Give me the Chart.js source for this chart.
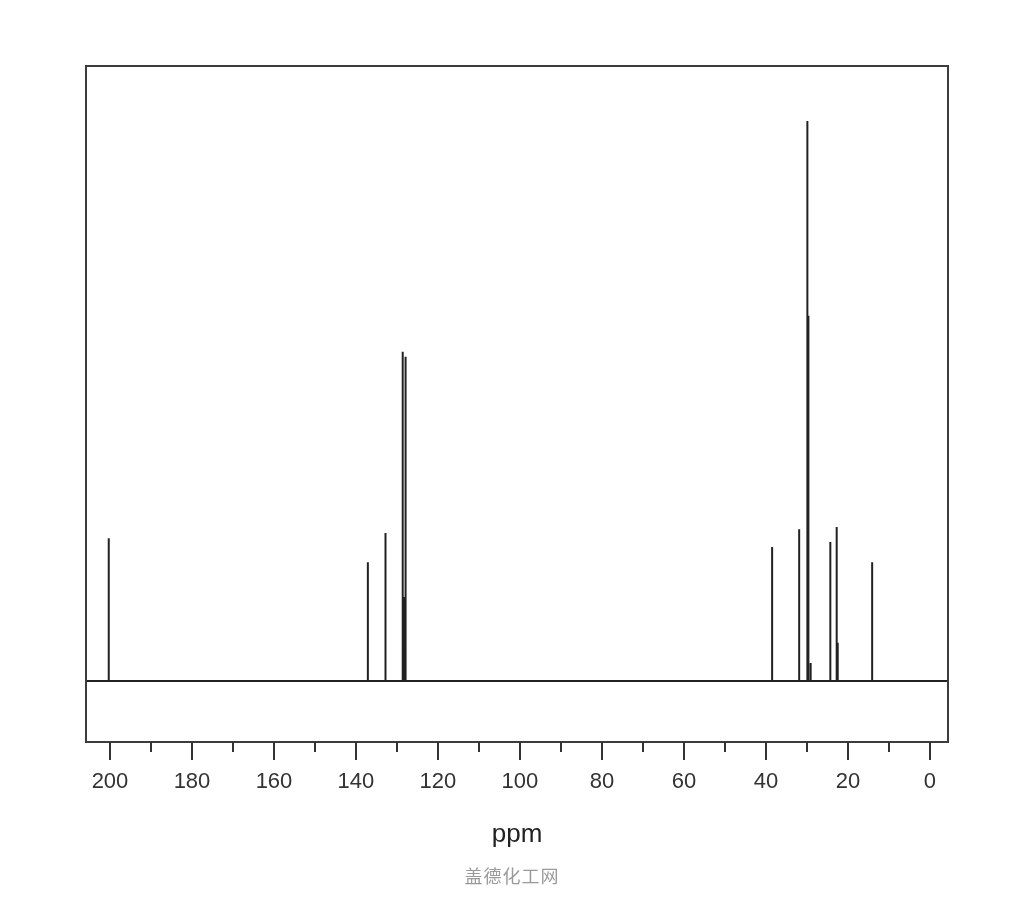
<!DOCTYPE html>
<html>
<head>
<meta charset="utf-8">
<script src="https://cdn.jsdelivr.net/npm/chart.js@4"></script>
<style>
  body { margin: 0; background: #fff; }
  #wrap { position: relative; width: 1024px; height: 900px; }
  #mark {
    position: absolute; left: 0; width: 1024px; top: 862px;
    text-align: center; font-family: "Noto Sans CJK SC"; font-size: 18px;
    letter-spacing: 1px; color: #9a9a9a;
  }
</style>
</head>
<body>
<div id="wrap">
  <canvas id="nmr" width="1024" height="900"></canvas>
  <div id="mark">盖德化工网</div>
</div>
<script>
// peak positions (ppm) and relative heights (tallest = 100)
const peakShifts = [200.3, 137.1, 132.8, 128.6, 128.25, 127.9, 38.5, 31.9, 29.9, 29.65, 29.1, 24.3, 22.75, 22.5, 14.1];
const peakHeights = [25.5, 21.2, 26.4, 58.8, 15.0, 57.9, 23.9, 27.1, 100, 65.2, 3.2, 24.8, 27.5, 6.8, 21.2];
const ppmRange = [-4.4, 205.85];
const intensityRange = [-10.9, 109.8];

// stick spectrum: baseline, up to the peak, back down
const spectrum = [{ x: ppmRange[1], y: 0 }];
peakShifts.forEach((p, i) => {
  spectrum.push({ x: p, y: 0 });
  spectrum.push({ x: p, y: peakHeights[i] });
  spectrum.push({ x: p, y: 0 });
});
spectrum.push({ x: ppmRange[0], y: 0 });

// box round the plot + long/short tick marks under the axis
const framePlugin = {
  id: 'frame',
  afterDraw(chart) {
    const ctx = chart.ctx;
    const a = chart.chartArea;
    const xs = chart.scales.x;
    ctx.save();
    ctx.strokeStyle = '#3c3c3c';
    ctx.lineWidth = 2;
    ctx.strokeRect(a.left, a.top, a.right - a.left, a.bottom - a.top);
    ctx.strokeStyle = '#333';
    xs.ticks.forEach(t => {
      const px = Math.round(xs.getPixelForValue(t.value));
      const len = t.value % 20 === 0 ? 18 : 10;
      ctx.beginPath();
      ctx.moveTo(px, a.bottom);
      ctx.lineTo(px, a.bottom + len);
      ctx.stroke();
    });
    ctx.restore();
  }
};

new Chart(document.getElementById('nmr'), {
  type: 'line',
  data: {
    datasets: [{
      data: spectrum,
      borderColor: '#222',
      borderWidth: 2,
      pointRadius: 0,
      tension: 0
    }]
  },
  options: {
    responsive: false,
    animation: false,
    layout: { padding: { left: 86, right: 76, top: 66, bottom: 0 } },
    plugins: {
      legend: { display: false },
      tooltip: { enabled: false }
    },
    scales: {
      x: {
        type: 'linear',
        reverse: true,
        min: ppmRange[0],
        max: ppmRange[1],
        afterBuildTicks: (scale) => {
          scale.ticks = scale.ticks.filter(t => Math.abs(t.value % 10) < 1e-6);
        },
        afterFit: (scale) => { scale.height = 158; },
        grid: { display: false, drawTicks: false },
        border: { display: false },
        ticks: {
          stepSize: 10,
          includeBounds: false,
          padding: 27,
          maxRotation: 0,
          autoSkip: false,
          color: '#333',
          font: { family: 'Liberation Sans', size: 22 },
          callback: (v) => (v % 20 === 0 ? v : '')
        },
        title: {
          display: true,
          text: 'ppm',
          color: '#222',
          font: { family: 'Liberation Sans', size: 26 },
          padding: { top: 0, bottom: 50 }
        }
      },
      y: {
        display: false,
        min: intensityRange[0],
        max: intensityRange[1]
      }
    }
  },
  plugins: [framePlugin]
});
</script>
</body>
</html>
